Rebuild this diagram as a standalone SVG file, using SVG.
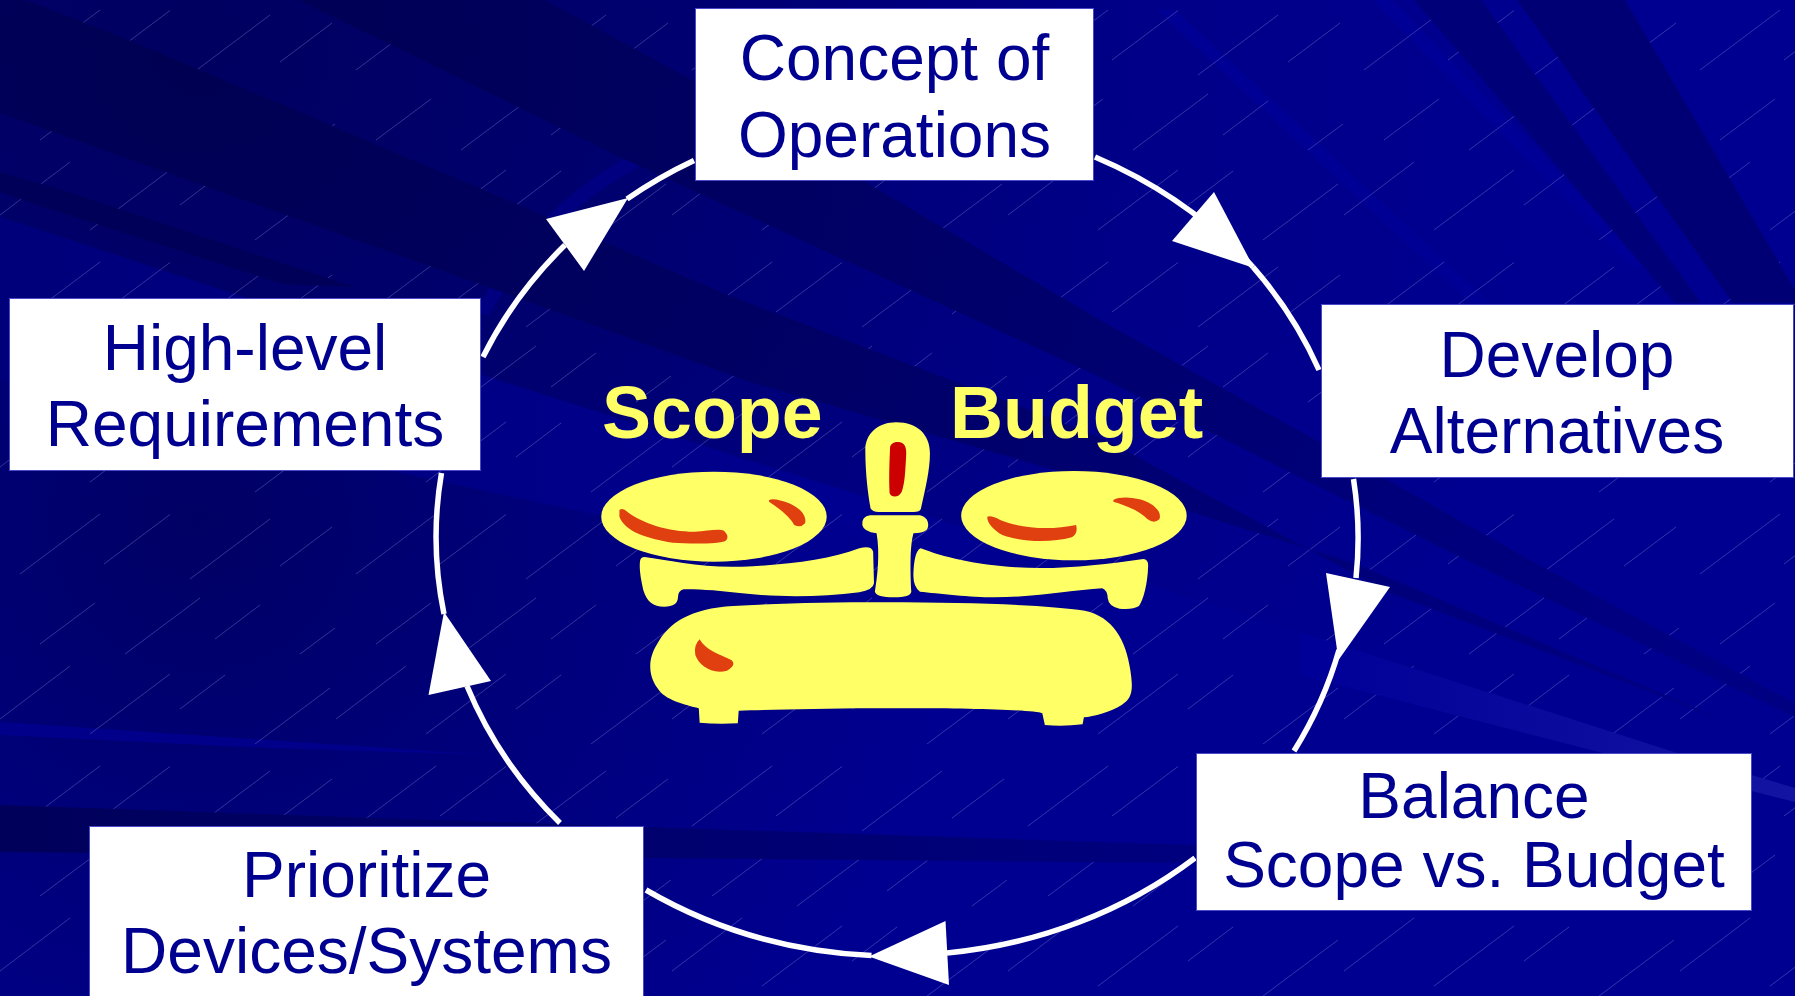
<svg xmlns="http://www.w3.org/2000/svg" width="1795" height="996" viewBox="0 0 1795 996">
<defs>
<radialGradient id="zoneA" gradientUnits="userSpaceOnUse" cx="200" cy="40" r="1350"><stop offset="0" stop-color="#000060"/><stop offset=".35" stop-color="#000070"/><stop offset=".7" stop-color="#000088"/><stop offset="1" stop-color="#000090"/></radialGradient>
<radialGradient id="zoneB" gradientUnits="userSpaceOnUse" cx="200" cy="520" r="760"><stop offset="0" stop-color="#000064"/><stop offset=".45" stop-color="#00007a"/><stop offset="1" stop-color="#000090"/></radialGradient>
<radialGradient id="band" gradientUnits="userSpaceOnUse" cx="200" cy="40" r="1600"><stop offset="0" stop-color="#000052"/><stop offset=".4" stop-color="#000064"/><stop offset=".8" stop-color="#00007a"/><stop offset="1" stop-color="#000082"/></radialGradient>
<linearGradient id="low" gradientUnits="userSpaceOnUse" x1="0" y1="0" x2="1250" y2="0"><stop offset="0" stop-color="#00005a"/><stop offset="1" stop-color="#000080"/></linearGradient>
<linearGradient id="glow" gradientUnits="userSpaceOnUse" x1="1300" y1="0" x2="1795" y2="0"><stop offset="0" stop-color="#000098"/><stop offset="1" stop-color="#1414a2"/></linearGradient>
<linearGradient id="mid" gradientUnits="userSpaceOnUse" x1="0" y1="0" x2="900" y2="0"><stop offset="0" stop-color="#00007a"/><stop offset="1" stop-color="#000090"/></linearGradient>
<pattern id="hair" patternUnits="userSpaceOnUse" width="336" height="252">
<path d="M20 70L100 10M104 60L170 10.500M190 75L270 15M280 62L332 23M40 140L95 99M125 150L200 94M215 135L260 101M300 150L335 124M0 215L70 162M90 230L170 170M180 205L225 171M255 240L330 184" fill="none" stroke="#a8a8f0" stroke-opacity=".3" stroke-width="1"/>
</pattern>
<style>
.box{fill:#fff;stroke:#4a4ac8;stroke-width:1}
.lbl{font-family:"Liberation Sans",Arial,sans-serif;font-size:64px;fill:#000090;text-anchor:middle}
.head{font-family:"Liberation Sans",Arial,sans-serif;font-size:73.500px;font-weight:700;fill:#ffff66}
.arc{fill:none;stroke:#fff;stroke-width:5.500}
.tip{fill:#fff}
.y{fill:#ffff66}
.o{fill:#e04010}
</style>
</defs>
<g id="background">
<rect width="1795" height="996" fill="#000090"/>
<polygon fill="url(#mid)" points="0,217 482,375 780,470 950,620 402,473 0,380"/>
<polygon fill="url(#zoneA)" points="0,0 1795,0 1795,790 1300,632 780,470 482,375 0,217"/>
<polygon fill="url(#zoneB)" points="0,380 402,473 700,537 950,620 1050,996 0,996"/>
<polygon fill="#00008a" points="0,722 491,755 268,748 0,735"/>
<polygon fill="#000096" points="1373,0 1392,0 1650,267 1630,267"/>
<polygon fill="#000094" points="1157,10 1175,10 1490,303 1470,303"/>
<path d="M482 313Q560 180 695 135" fill="none" stroke="#000080" stroke-width="14"/>
<rect width="1795" height="996" fill="url(#hair)"/>
<polygon fill="url(#band)" points="299,0 545,0 692,80 1100,320 1384,478 1530,560 1795,703 1795,717 1466,560 1100,377 620,157"/>
<polygon fill="url(#band)" points="0,-10 129,40 484,190 723,293 1100,437 1390,593 1731,723 1359,565 1100,483 753,383 460,277 0,113"/>
<polygon fill="#000058" points="0,172 53,187 355,287 283,284 106,227 31,203 0,192"/>
<polygon fill="url(#low)" points="0,805 644,827 1195,845 1250,850 1250,866 1195,863 644,858 0,852"/>
<polygon fill="url(#glow)" points="1300,632 1674,752 1795,788 1795,802 1595,751 1300,675"/>
<polygon fill="#000078" points="1414,0 1481,0 1701,303 1675,303"/>
<polygon fill="#000074" points="1517,0 1625,0 1795,290 1795,303 1733,303"/>
</g>
<g id="connectors">
<path class="arc" d="M1095 157A461 418 0 0 1 1253 267"/>
<path class="arc" d="M1253 267A461 418 0 0 1 1319 370"/>
<path class="arc" d="M1353.500 479A461 418 0 0 1 1356 578"/>
<path class="arc" d="M1339 650A461 418 0 0 1 1294 751"/>
<path class="arc" d="M1195 858A461 418 0 0 1 947 953"/>
<path class="arc" d="M871.500 955.500A461 418 0 0 1 646 890"/>
<path class="arc" d="M560 823A461 418 0 0 1 467 686"/>
<path class="arc" d="M444 614A461 418 0 0 1 441.500 473"/>
<path class="arc" d="M483 357A461 418 0 0 1 565 245"/>
<path class="arc" d="M627 199A461 418 0 0 1 694 160.500"/>
<polygon class="tip" points="1214,192 1254,268 1172,241"/>
<polygon class="tip" points="1326,573 1390,587 1338.500,660"/>
<polygon class="tip" points="945.500,921 949,985 869,956.500"/>
<polygon class="tip" points="491,681 428.500,695 444,612"/>
<polygon class="tip" points="584,271 546,219 628,198"/>
</g>
<g id="scale">
<text class="head" x="602" y="438">Scope</text>
<text class="head" x="950" y="438">Budget</text>
<g transform="translate(560 360) scale(.4337 .3333)">
<path class="y" d="M775 187C825 187 853 225 853 280C853 330 842 390 832 447Q830 456 815 456L735 456Q720 456 716 445C710 400 704 340 704 270C704 220 735 187 775 187Z"/>
<path fill="#cc0000" d="M779 246C795 246 800 262 798 290C796 335 795 370 788 395C782 412 765 415 760 400C758 350 760 300 761 262C763 250 770 246 779 246Z"/>
<path class="y" d="M715 466L830 466C850 470 853 500 845 510Q835 520 815 520C806 560 808 640 810 695Q808 712 770 712Q730 712 726 695C732 650 738 580 730 520Q700 515 697 495Q695 470 715 466Z"/>
<ellipse class="y" cx="355" cy="470" rx="260" ry="135"/>
<ellipse class="y" cx="1185" cy="467" rx="260" ry="134"/>
<path class="y" d="M195 591C250 600 330 625 420 620C520 615 620 600 690 565Q718 555 722 575L724 670Q722 690 690 697C600 712 500 712 420 700C370 692 320 687 285 688Q272 692 272 712Q272 740 240 740C215 740 200 725 192 690C185 650 182 620 185 600Q187 591 195 591Z"/>
<path class="y" d="M832 565C880 590 960 615 1050 622C1150 630 1250 615 1345 597Q1357 597 1356 620C1355 670 1345 720 1335 738Q1320 750 1290 746Q1265 740 1263 715Q1262 690 1250 685C1180 690 1100 712 1000 712C950 712 870 700 830 695Q815 680 815 650C815 620 818 570 832 565Z"/>
<path class="y" d="M750 727C950 727 1120 735 1210 752C1275 770 1305 840 1315 930C1322 990 1320 1015 1295 1035C1270 1055 1230 1070 1208 1072L1205 1093Q1160 1100 1118 1095L1112 1060C1090 1048 900 1043 720 1045C600 1046 480 1050 412 1052L410 1090Q360 1093 322 1088L320 1045C290 1035 240 1020 225 985C200 940 205 890 225 850C250 790 300 745 400 738C500 730 620 727 750 727Z"/>
<path class="o" d="M137 450Q145 442 155 455C190 490 250 515 310 515C340 513 365 505 378 512Q392 530 382 542C370 552 300 552 260 548C200 535 150 515 137 470Z"/>
<path class="o" d="M482 420Q490 415 510 422C550 435 570 465 565 490Q555 505 540 495C530 470 505 445 482 425Z"/>
<path class="o" d="M985 470Q995 465 1015 480C1060 505 1130 512 1190 495Q1195 520 1180 532C1130 550 1060 545 1020 525C1000 510 985 490 985 470Z"/>
<path class="o" d="M1276 420Q1290 410 1320 414C1360 420 1390 450 1382 478Q1370 492 1355 478C1335 450 1300 435 1276 425Z"/>
<path class="o" d="M322 838C335 870 370 885 395 900Q408 915 385 932C350 945 320 915 312 885Q308 855 322 838Z"/>
</g>
</g>
<g id="node-concept"><rect class="box" x="695.500" y="8.500" width="398" height="172"/><text class="lbl" x="894.500" y="80">Concept of</text><text class="lbl" x="894.500" y="157">Operations</text></g>
<g id="node-develop"><rect class="box" x="1321.500" y="304.500" width="472" height="173"/><text class="lbl" x="1557" y="377">Develop</text><text class="lbl" x="1557" y="453">Alternatives</text></g>
<g id="node-balance"><rect class="box" x="1196.500" y="753.500" width="555" height="157"/><text class="lbl" x="1474" y="818">Balance</text><text class="lbl" x="1474" y="887">Scope vs. Budget</text></g>
<g id="node-prioritize"><rect class="box" x="89.500" y="826.500" width="554" height="180"/><text class="lbl" x="366.500" y="897">Prioritize</text><text class="lbl" x="366.500" y="973">Devices/Systems</text></g>
<g id="node-requirements"><rect class="box" x="9.500" y="298.500" width="471" height="172"/><text class="lbl" x="245" y="370">High-level</text><text class="lbl" x="245" y="446">Requirements</text></g>
</svg>
